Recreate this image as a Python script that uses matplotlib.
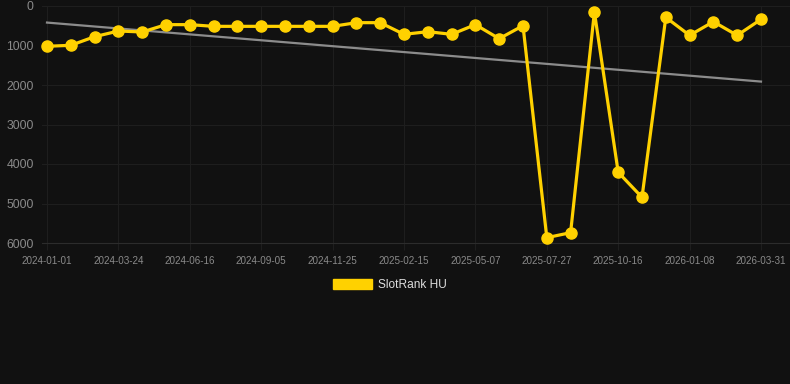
import matplotlib
matplotlib.use("Agg")
import matplotlib.pyplot as plt
from matplotlib.patches import Patch
import numpy as np

plt.rcParams['font.family'] = ['Liberation Sans', 'DejaVu Sans']

tick_dates = ["2024-01-01", "2024-03-24", "2024-06-16", "2024-09-05", "2024-11-25",
              "2025-02-15", "2025-05-07", "2025-07-27", "2025-10-16", "2026-01-08",
              "2026-03-31"]
rank = [1020, 995, 777, 633, 658, 472, 472, 515, 515, 515, 515, 515, 515, 422, 422,
        717, 650, 717, 472, 827, 498, 5865, 5738, 152, 4210, 4843, 287, 743, 397, 743, 338]
series_name = "SlotRank HU"
y_ticks = [0, 1000, 2000, 3000, 4000, 5000, 6000]

BG = "#111111"
YELLOW = "#FFD100"
GRID = "#1e1e1e"
TICKC = "#8a8a8a"

W, H = 790, 384
fig = plt.figure(figsize=(W / 100, H / 100), dpi=100, facecolor=BG)
ax = fig.add_axes([42 / W, 1 - 243 / H, (790 - 42) / W, (243 - 6) / H], facecolor=BG)

x = np.arange(len(rank))
coef = np.polyfit(x, rank, 1)
trend = np.polyval(coef, x)
ax.plot([x[0], x[-1]], [trend[0], trend[-1]], color="#8c8c8c", lw=1.6, zorder=2)
ax.plot(x, rank, color=YELLOW, lw=2.3, marker="o", ms=8, solid_joinstyle="miter",
        zorder=3, clip_on=False)

ax.set_ylim(6000, 0)
step = 23.8
ax.set_xlim(-5 / step, (790 - 47) / step)
ax.set_yticks(y_ticks)
ax.set_yticklabels([str(v) for v in y_ticks])
ax.set_xticks(np.arange(0, len(rank), 3))
ax.set_xticklabels(tick_dates)

ax.grid(True, color=GRID, lw=0.8)
for s in ax.spines.values():
    s.set_visible(False)
ax.spines['bottom'].set_visible(True)
ax.spines['bottom'].set_color("#2c2c2c")
ax.tick_params(axis='y', length=0, pad=6, labelsize=8.8, labelcolor=TICKC)
ax.tick_params(axis='x', length=5, color=GRID, pad=4, labelsize=7.1, labelcolor=TICKC)

handle = Patch(facecolor=YELLOW, edgecolor=YELLOW)
fig.legend([handle], [series_name], loc="center", bbox_to_anchor=(390 / W, 1 - 285 / H),
           frameon=False, fontsize=8.6, labelcolor="#dddddd", handlelength=3.3,
           handleheight=1.0, handletextpad=0.5)

fig.savefig("out.png", dpi=100, facecolor=BG)
